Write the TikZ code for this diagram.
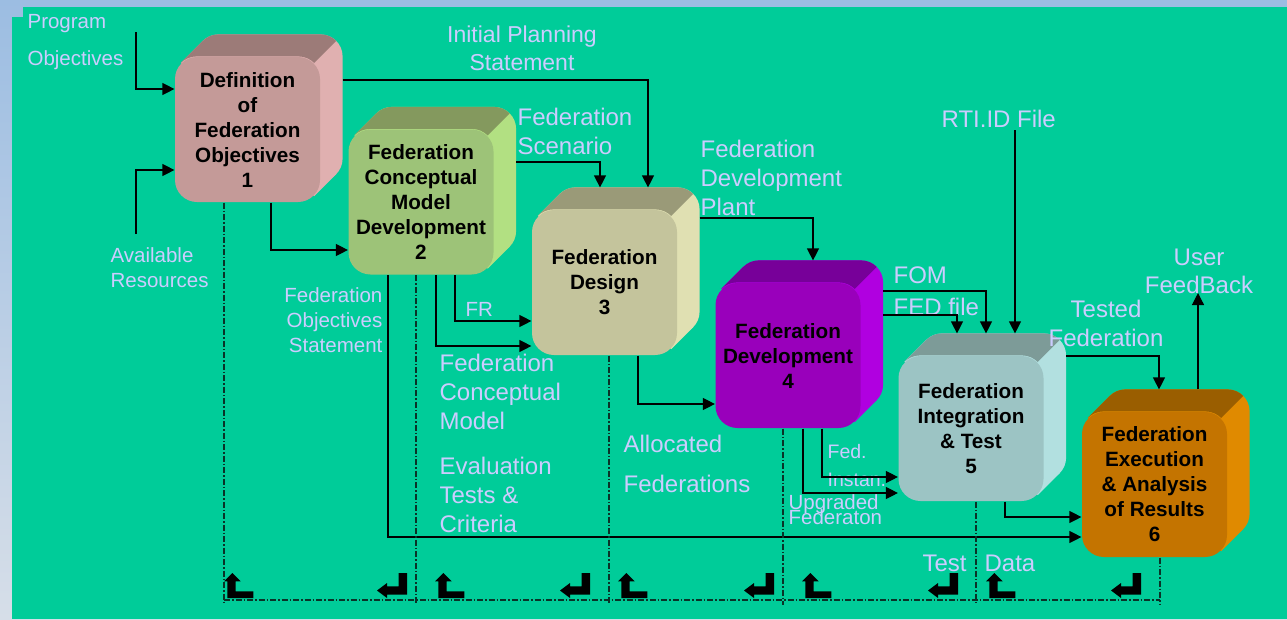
\documentclass[tikz,border=0pt]{standalone}
\usepackage{fontspec}
\setmainfont{Liberation Sans}
\usetikzlibrary{positioning,arrows.meta,calc,backgrounds}

\definecolor{field}{HTML}{00CC99}
\definecolor{skyA}{HTML}{9CBDE2}
\definecolor{skyB}{HTML}{D6DEE8}
\definecolor{lilac}{HTML}{CCCCFF}
\definecolor{sepline}{HTML}{0A3328}
\definecolor{roseF}{HTML}{C49A98}\definecolor{roseT}{HTML}{9C7B78}\definecolor{roseS}{HTML}{E0B0B0}
\definecolor{leafF}{HTML}{9DC378}\definecolor{leafT}{HTML}{84995E}\definecolor{leafS}{HTML}{B2E082}
\definecolor{sandF}{HTML}{C4C49C}\definecolor{sandT}{HTML}{9A9A78}\definecolor{sandS}{HTML}{E0E0B2}
\definecolor{plumF}{HTML}{9900BB}\definecolor{plumT}{HTML}{770099}\definecolor{plumS}{HTML}{B000E0}
\definecolor{aquaF}{HTML}{9CC4C4}\definecolor{aquaT}{HTML}{7D9B98}\definecolor{aquaS}{HTML}{B2E0E0}
\definecolor{amberF}{HTML}{C47400}\definecolor{amberT}{HTML}{9A5E00}\definecolor{amberS}{HTML}{E08A00}

% top face and right side of a stage box, drawn behind it
\newcommand\extrude[3]{%
  \begin{scope}[on background layer]
    \fill[#3, rounded corners=22pt] ([shift={(22pt,22pt)}]#1.south west) rectangle ([shift={(22pt,22pt)}]#1.north east);
    \fill[#3] ($(#1.north west)+(22pt,-22pt)+(135:22pt)$) -- ++(22pt,22pt)
      -- ($(#1.south east)+(-22pt,22pt)+(-45:22pt)+(22pt,22pt)$) -- ++(-22pt,-22pt) -- cycle;
    \fill[#2] ($(#1.north west)+(22pt,-22pt)+(135:22pt)$) arc[start angle=135, end angle=90, radius=22pt]
      -- ($(#1.north east)+(-22pt,0pt)$) arc[start angle=90, end angle=45, radius=22pt]
      -- ++(22pt,22pt) arc[start angle=45, end angle=90, radius=22pt]
      -- ($(#1.north west)+(44pt,22pt)$) arc[start angle=90, end angle=135, radius=22pt] -- cycle;
  \end{scope}
  \coordinate (#1-top) at ([yshift=22pt]#1.north);
  \coordinate (#1-side) at ([xshift=22pt]#1.east);}

\begin{document}
\begin{tikzpicture}[
    x=1pt, y=-1pt,
    line width=1.2pt,
    > = {Triangle[length=12pt, width=12pt]},
    stage/.style = {rounded corners=22pt, minimum width=145pt, minimum height=145pt, inner sep=0pt, align=center, font=\bfseries\fontsize{20.7pt}{25pt}\selectfont},
    lbl/.style = {text=lilac, inner sep=0pt, align=left, anchor=base west, font=\fontsize{24pt}{29pt}\selectfont},
    lblsm/.style = {lbl, font=\fontsize{20.5pt}{25pt}\selectfont},
    colsep/.style = {sepline, line width=1.2pt, dash pattern=on 6pt off 2pt on 1.5pt off 2pt},
    upturn/.pic = {\fill (8.3,0) -- (16.7,8.3) -- (11.7,8.3) -- (11.7,18.3) -- (29.3,18.3) -- (29.3,25) -- (3.3,25) -- (3.3,8.3) -- (0,8.3) -- cycle;},
    downturn/.pic = {\fill (21.7,0) -- (30,0) -- (30,21.7) -- (10,21.7) -- (10,25) -- (0,17.5) -- (10,10) -- (10,13.3) -- (21.7,13.3) -- cycle;}
]
\useasboundingbox (0,0) rectangle (1287,619);
\begin{scope}[on background layer]
  \shade[top color=skyA, bottom color=skyB] (0,0) rectangle (1287,619);
  \fill[field] (23,7) rectangle (1287,619);
  \fill[field] (12,17) rectangle (30,619);
\end{scope}

% stages
\node (def) [stage, fill=roseF] at (247.5,129.5) {Definition\\of\\Federation\\Objectives\\1};
\extrude{def}{roseT}{roseS}
\node (fcm) [stage, fill=leafF] at (421,202) {Federation\\Conceptual\\Model\\Development\\2};
\extrude{fcm}{leafT}{leafS}
\node (design) [stage, fill=sandF] at (604.5,282.5) {Federation\\Design\\3};
\extrude{design}{sandT}{sandS}
\node (develop) [stage, fill=plumF] at (788,355.5) {Federation\\Development\\4};
\extrude{develop}{plumT}{plumS}
\node (integ) [stage, fill=aquaF] at (971,428.5) {Federation\\Integration\\\&~Test\\5};
\extrude{integ}{aquaT}{aquaS}
\node (exec) [stage, fill=amberF] at (1154.5,484.5) {Federation\\Execution\\\&~Analysis\\of Results\\6};
\extrude{exec}{amberT}{amberS}

% labels (placed at the baseline of their last line)
\node (pgmLbl) [lblsm, font=\fontsize{20.5pt}{37pt}\selectfont] at (27,65) {Program\\Objectives};
\node (resLbl) [lblsm] at (110,287) {Available\\Resources};
\node (ipsLbl) [lbl, align=center, anchor=base, font=\fontsize{23pt}{28pt}\selectfont] at (522,70) {Initial Planning\\Statement};
\node (scenLbl) [lbl] at (517,154) {Federation\\Scenario};
\node (plantLbl) [lbl] at (700,215) {Federation\\Development\\Plant};
\node (rtiLbl) [lbl] at (941,127) {RTI.ID File};
\node (fomLbl) [lbl, font=\fontsize{24pt}{32pt}\selectfont] at (893,315) {FOM\\FED file};
\node (testedLbl) [lbl, align=center, anchor=base] at (1106,346) {Tested\\Federation};
\node (fbLbl) [lbl, align=center, anchor=base, font=\fontsize{24pt}{28pt}\selectfont] at (1199,293) {User\\FeedBack};
\node (fosLbl) [lblsm, align=right, anchor=base east] at (383,352) {Federation\\Objectives\\Statement};
\node (frLbl) [lblsm] at (465,316) {FR};
\node (fcmLbl) [lbl] at (439,429) {Federation\\Conceptual\\Model};
\node (evalLbl) [lbl] at (439,532) {Evaluation\\Tests \&\\Criteria};
\node (allocLbl) [lbl, font=\fontsize{24pt}{40pt}\selectfont] at (623,492) {Allocated\\Federations};
\node (instLbl) [lblsm, font=\fontsize{19.5pt}{28pt}\selectfont] at (827,486) {Fed.\\Instan.};
\node (upgLbl) [lblsm, font={\fontsize{20.5pt}{15pt}\selectfont\lineskiplimit=-30pt}] at (788,524) {Upgraded\\Federaton};
\node (testLbl) [lbl] at (922,571) {Test};
\node (dataLbl) [lbl] at (984,571) {Data};

% flows
\coordinate (pgmIn) at (136,32);
\coordinate (resIn) at (136,234);
\coordinate (rtiIn) at (1015,130);
\coordinate (fbOut) at (1198,293);

\draw[->] (pgmIn) |- (def.west |- 0,89);
\draw[->] (resIn) |- (def.west |- 0,170);
\draw[->] (def.south -| 271,0) |- (fcm.west |- 0,250);
\draw[->] (def-side |- 0,80) -| (design-top -| 648,0);
\draw[->] (fcm-side |- 0,162) -| (design-top -| 600,0);
\draw[->] (fcm.south -| 455,0) |- (design.west |- 0,321);
\draw[->] (fcm.south -| 436,0) |- (design.west |- 0,346);
\draw[->] (fcm.south -| 388,0) |- (exec.west |- 0,537);
\draw[->] (design-side |- 0,218) -| (develop-top -| 813,0);
\draw[->] (design.south -| 638,0) |- (develop.west |- 0,404);
\draw[->] (develop-side |- 0,291) -| (integ-top -| 986,0);
\draw[->] (develop-side |- 0,315) -| (integ-top -| 957,0);
\draw[->] (develop.south -| 822,0) |- (integ.west |- 0,477);
\draw[->] (develop.south -| 803,0) |- (integ.west |- 0,493);
\draw[->] (rtiIn) -- (integ-top -| rtiIn);
\draw[->] (integ-side |- 0,356) -| (exec-top -| 1159,0);
\draw[->] (integ.south -| 1005,0) |- (exec.west |- 0,517);
\draw[->] (exec-top -| fbOut) -- (fbOut);

% phase separators
\draw[colsep] (def.south -| 224,0) -- (224,605);
\draw[colsep] (fcm.south -| 416,0) -- (416,605);
\draw[colsep] (design.south -| 609,0) -- (609,605);
\draw[colsep] (develop.south -| 783,0) -- (783,605);
\draw[colsep] (integ.south -| 976,0) -- (976,605);
\draw[colsep] (exec.south -| 1160,0) -- (1160,605);
\draw[colsep] (224,600) -- (1160,600);

\pic at (224,573) {upturn};  \pic at (377,573) {downturn};
\pic at (435,573) {upturn};  \pic at (560,573) {downturn};
\pic at (618,573) {upturn};  \pic at (744,573) {downturn};
\pic at (802,573) {upturn};  \pic at (928,573) {downturn};
\pic at (986,573) {upturn};  \pic at (1111,573) {downturn};
\end{tikzpicture}
\end{document}
